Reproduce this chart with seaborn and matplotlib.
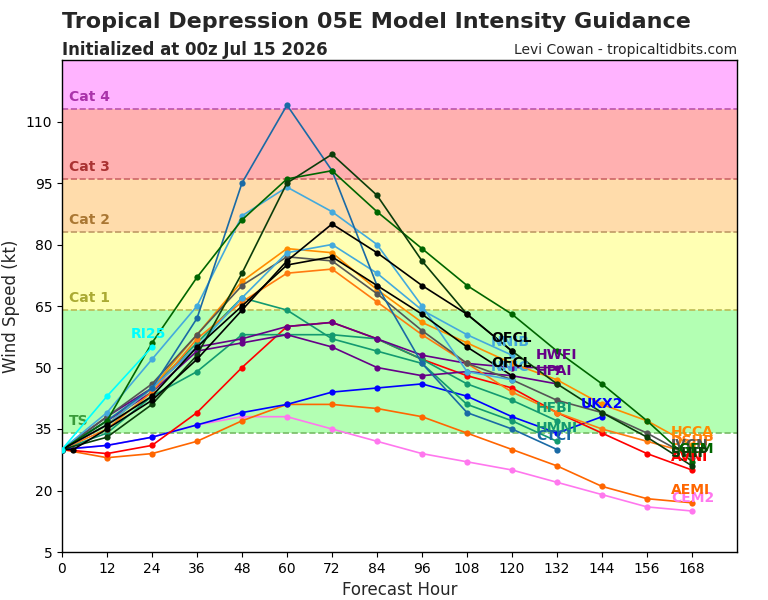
import matplotlib
matplotlib.use("Agg")
import matplotlib.pyplot as plt
import seaborn as sns
import pandas as pd

# ---------------- data ----------------
H = [0, 12, 24, 36, 48, 60, 72, 84, 96, 108, 120, 132, 144, 156, 168]
H_OFCL = [0, 3, 12, 24, 36, 48, 60, 72, 84, 96, 108, 120]

ri25 = [30, 43, 55]
ctci = [30, 37, 45, 62, 95, 114, 98, 70, 51, 39, 35, 30]
nnic = [30, 39, 52, 65, 87, 94, 88, 80, 65, 49, 47]
nnib = [30, 36, 45, 55, 67, 78, 80, 73, 64, 58, 53]
lgem = [30, 37, 56, 72, 86, 96, 98, 88, 79, 70, 63, 54, 46, 37, 27]
ship = [30, 33, 41, 53, 73, 95, 102, 92, 76, 63, 54, 46, 39, 33, 26]
ofcl_a = [30, 30, 35, 42, 52, 64, 76, 85, 78, 70, 63, 54]
ofcl_b = [30, 36, 43, 55, 65, 75, 77, 70, 63, 55, 48]
ivcn = [30, 38, 46, 58, 70, 77, 76, 68, 59, 51, 47, 42, 39, 34, 28]
hcca = [30, 36, 45, 58, 71, 79, 78, 69, 61, 56, 51, 47, 41, 37, 31]
dshp = [30, 35, 44, 57, 66, 73, 74, 66, 58, 51, 44, 39, 35, 32, 29]
aemi = [30, 28, 29, 32, 37, 41, 41, 40, 38, 34, 30, 26, 21, 18, 17]
cem2 = [30, 31, 33, 36, 38, 38, 35, 32, 29, 27, 25, 22, 19, 16, 15]
ukx2 = [30, 31, 33, 36, 39, 41, 44, 45, 46, 43, 38, 34, 38]
avni = [30, 29, 31, 39, 50, 60, 61, 57, 52, 48, 45, 39, 34, 29, 25]
hwfi = [30, 38, 45, 55, 57, 60, 61, 57, 53, 51, 50, 50]
hpai = [30, 37, 44, 54, 56, 58, 55, 50, 48, 49, 48, 46]
hfbi = [30, 34, 43, 49, 58, 58, 58, 57, 52, 46, 42, 37]
hmni = [30, 36, 45, 56, 67, 64, 57, 54, 51, 41, 37, 32]

models = [
    # (id, label, hours, values, color)
    ("CEM2", "CEM2", H, cem2, "#ff77ee"),
    ("AEMI", "AEMI", H, aemi, "#ff6600"),
    ("UKX2", "UKX2", H, ukx2, "#0000ff"),
    ("AVNI", "AVNI", H, avni, "#ff0000"),
    ("HFBI", "HFBI", H, hfbi, "#139a70"),
    ("HMNI", "HMNI", H, hmni, "#139a70"),
    ("HPAI", "HPAI", H, hpai, "#660088"),
    ("HWFI", "HWFI", H, hwfi, "#660088"),
    ("DSHP", "DSHP", H, dshp, "#ff7a10"),
    ("HCCA", "HCCA", H, hcca, "#ff8c00"),
    ("IVCN", "IVCN", H, ivcn, "#555555"),
    ("NNIB", "NNIB", H, nnib, "#44aadd"),
    ("NNIC", "NNIC", H, nnic, "#44aadd"),
    ("CTCI", "CTCI", H, ctci, "#1a6aa5"),
    ("LGEM", "LGEM", H, lgem, "#006600"),
    ("SHIP", "SHIP", H, ship, "#0b3d0b"),
    ("OFCL_b", "OFCL", H, ofcl_b, "#000000"),
    ("OFCL_a", "OFCL", H_OFCL, ofcl_a, "#000000"),
    ("RI25", "RI25", H, ri25, "#00ffff"),
]

cat_levels = [34, 64, 83, 96, 113, 137]
cat_names = ["TS", "Cat 1", "Cat 2", "Cat 3", "Cat 4"]
band_colors = ["#b3ffb3", "#ffffb3", "#ffdcab", "#ffb0b0", "#ffb3ff"]
line_colors = ["#77bb66", "#bbbb55", "#c09966", "#cc6666", "#bb55aa"]
text_colors = ["#3a9a3a", "#aaaa33", "#aa7733", "#aa3333", "#aa33aa"]

y_ticks = [5, 20, 35, 50, 65, 80, 95, 110]
x_ticks = list(range(0, 169, 12))

# --------------- build long table ---------------
rows = []
for mid, lab, hrs, vals, col in models:
    for h, v in zip(hrs, vals):
        rows.append({"model": mid, "hour": h, "wind": v})
df = pd.DataFrame(rows)
palette = {m[0]: m[4] for m in models}

# --------------- plot ---------------
sns.set_style("ticks")
plt.rcParams["font.family"] = ["DejaVu Sans"]

fig = plt.figure(figsize=(7.68, 6.0), dpi=100)
ax = fig.add_axes([62 / 768, 1 - 552 / 600, (737 - 62) / 768, (552 - 60) / 600])

ax.set_xlim(0, 180)
ax.set_ylim(5, 125)

for i in range(5):
    ax.axhspan(cat_levels[i], cat_levels[i + 1], color=band_colors[i], zorder=0, lw=0)
    ax.axhline(cat_levels[i], color=line_colors[i], ls="--", lw=1.2, zorder=1)
    ax.text(1.8, cat_levels[i] + 1.3, cat_names[i], color=text_colors[i],
            fontsize=10, fontweight="bold", va="bottom", ha="left", zorder=2)

sns.lineplot(data=df, x="hour", y="wind", hue="model", palette=palette,
             hue_order=[m[0] for m in models], units="model", estimator=None,
             sort=False, marker="o", markersize=4.5, markeredgewidth=0,
             linewidth=1.2, legend=False, ax=ax, zorder=3)

for mid, lab, hrs, vals, col in models:
    n = len(vals)
    ax.annotate(lab, xy=(hrs[n - 1], vals[n - 1]), xytext=(-21, 13),
                textcoords="offset pixels", ha="left", va="center",
                color=col, fontsize=10, fontweight="bold", zorder=4)

ax.set_xticks(x_ticks)
ax.set_yticks(y_ticks)
ax.tick_params(labelsize=10, colors="black")
ax.set_xlabel("Forecast Hour", fontsize=12)
ax.set_ylabel("Wind Speed (kt)", fontsize=12)
for s in ax.spines.values():
    s.set_visible(True)
    s.set_color("black")
    s.set_linewidth(1.0)

fig.text(62 / 768, 1 - 22 / 600, "Tropical Depression 05E Model Intensity Guidance",
         fontsize=16, fontweight="bold", ha="left", va="center")
fig.text(62 / 768, 1 - 50 / 600, "Initialized at 00z Jul 15 2026",
         fontsize=12, fontweight="bold", ha="left", va="center")
fig.text(737 / 768, 1 - 50 / 600, "Levi Cowan - tropicaltidbits.com",
         fontsize=10, ha="right", va="center")

fig.savefig("out.png", dpi=100)
